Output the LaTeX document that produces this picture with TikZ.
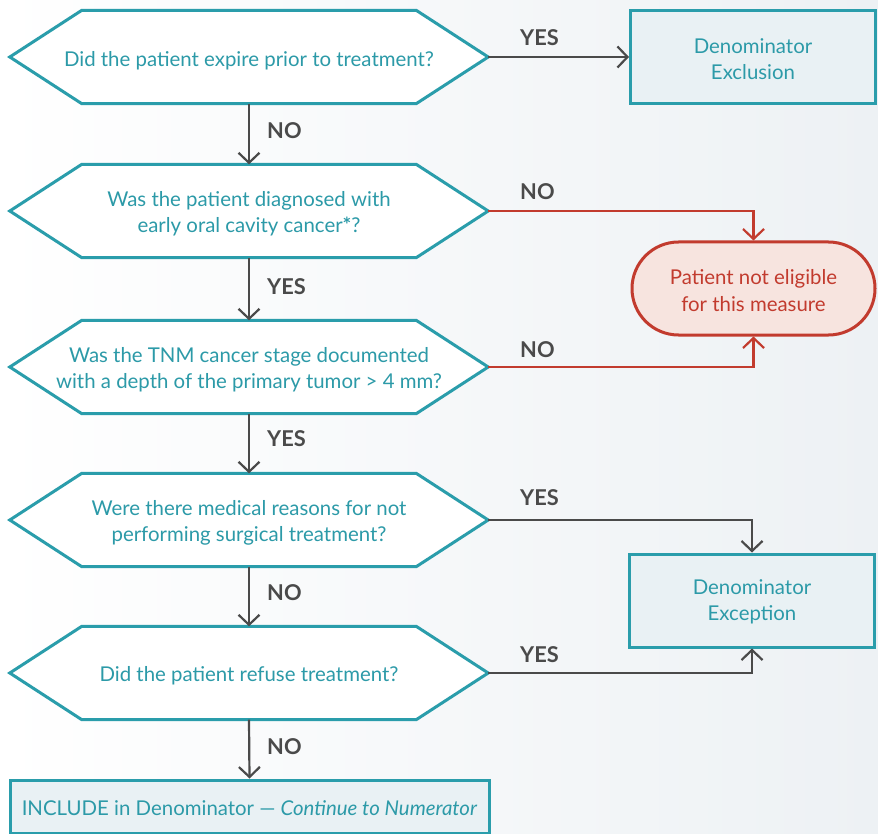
\documentclass[tikz,border=0pt]{standalone}
\usepackage{fontspec}
\setmainfont{Lato}
\usetikzlibrary{arrows.meta,shapes.misc,calc}
\definecolor{tealline}{HTML}{2A9DAB}
\definecolor{tealtxt}{HTML}{2C9AA8}
\definecolor{boxfill}{HTML}{E9F1F4}
\definecolor{redline}{HTML}{C23B2E}
\definecolor{redfill}{HTML}{F7E4DF}
\definecolor{arrgray}{HTML}{4A4A4A}
\definecolor{bgright}{HTML}{EDF1F4}
\pgfdeclarelayer{bg}
\pgfsetlayers{bg,main}
\begin{document}
\begin{tikzpicture}[x=1pt,y=-1pt,
  txt/.style={font=\fontsize{20.4}{26.2}\selectfont,align=center,inner sep=0pt},
  q/.style={minimum width=478pt,minimum height=93pt,inner sep=0pt},
  qt/.style={txt,text=tealtxt},
  hexline/.style={draw=tealline,line width=3pt,fill=white,line join=miter},
  endbox/.style={draw=tealline,line width=3pt,fill=boxfill,minimum width=245pt,minimum height=93pt,inner sep=0pt},
  stopbox/.style={rounded rectangle,draw=redline,line width=3pt,fill=redfill,minimum width=243pt,minimum height=93pt,inner sep=0pt},
  rt/.style={txt,text=redline},
  arr/.style={draw=arrgray,line width=2.2pt,-{Straight Barb[length=10pt,width=21pt,line width=2.2pt]}},
  redarr/.style={arr,draw=redline},
  lab/.style={font=\fontsize{21.8}{22}\selectfont\bfseries,text=arrgray,anchor=west,inner sep=0pt}
]
\useasboundingbox (0,0) rectangle (878,834);

\node[q] (h1) at (249,57) {};
\node[q] (h2) at (249,211) {};
\node[q] (h3) at (249,367) {};
\node[q] (h4) at (249,520) {};
\node[q] (h5) at (249,673) {};

\node[endbox] (exc) at (753,57.5) {};
\node[stopbox] (ne) at (753.5,288.5) {};
\node[endbox] (ex) at (752,600.5) {};
\node[endbox,minimum width=479pt,minimum height=53pt] (inc) at (249.5,806.5) {};

\begin{pgfonlayer}{bg}
\fill[left color=white,right color=bgright] (0,0) rectangle (878,834);
\foreach \n in {h1,h2,h3,h4,h5}
  \draw[hexline] (\n.west) -- ($(\n.north west)+(72,0)$) -- ($(\n.north east)+(-72,0)$) -- (\n.east) -- ($(\n.south east)+(-72,0)$) -- ($(\n.south west)+(72,0)$) -- cycle;
\end{pgfonlayer}

\node[qt] (t1) at ($(h1.center)+(0,3.5)$) {Did the patient expire prior to treatment?};
\node[qt] (t2) at ($(h2.center)+(0,3)$) {Was the patient diagnosed with\\early oral cavity cancer\textbf{*}?};
\node[qt] (t3) at ($(h3.center)+(0,3)$) {Was the TNM cancer stage documented\\with a depth of the primary tumor > 4 mm?};
\node[qt] (t4) at ($(h4.center)+(0,3)$) {Were there medical reasons for not\\performing surgical treatment?};
\node[qt] (t5) at ($(h5.center)+(0,3)$) {Did the patient refuse treatment?};
\node[qt] (t6) at ($(exc.center)+(0,1.5)$) {Denominator\\Exclusion};
\node[rt] (t7) at ($(ne.center)+(0,2)$) {Patient not eligible\\for this measure};
\node[qt] (t8) at ($(ex.center)+(0,1.5)$) {Denominator\\Exception};
\node[qt] (t9) at ($(inc.center)+(0,2)$) {INCLUDE in Denominator — \textit{Continue to Numerator}};

\draw[arr] (h1.east) -- (h1.east -| exc.west);
\draw[arr] (h1.south) -- (h2.north);
\draw[arr] (h2.south) -- (h3.north);
\draw[arr] (h3.south) -- (h4.north);
\draw[arr] (h4.south) -- (h5.north);
\draw[arr] (h5.south) -- (inc.north);
\draw[redarr] (h2.east) -| (ne.north);
\draw[redarr] (h3.east) -| (ne.south);
\draw[arr] (h4.east) -| (ex.north);
\draw[arr] (h5.east) -| (ex.south);

\node[lab] (l1) at (520,38) {YES};
\node[lab] (l2) at (267,131) {NO};
\node[lab] (l3) at (520,192) {NO};
\node[lab] (l4) at (267,287) {YES};
\node[lab] (l5) at (520,350) {NO};
\node[lab] (l6) at (267,439) {YES};
\node[lab] (l7) at (520,498) {YES};
\node[lab] (l8) at (267,593) {NO};
\node[lab] (l9) at (520,655) {YES};
\node[lab] (l10) at (267,747) {NO};
\end{tikzpicture}
\end{document}
